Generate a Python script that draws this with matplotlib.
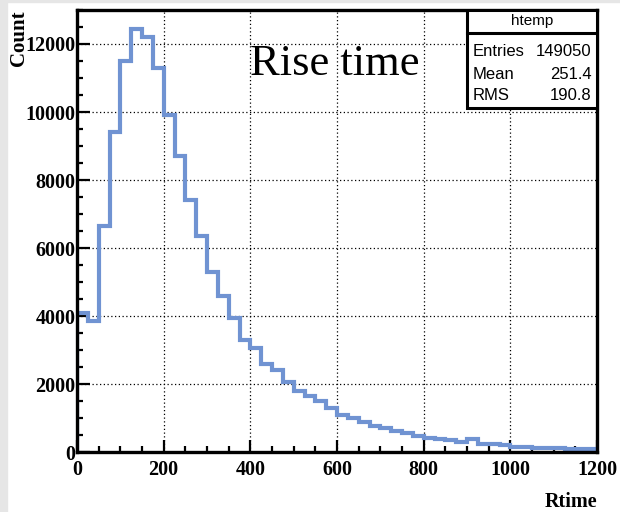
import numpy as np
import matplotlib
matplotlib.use("Agg")
import matplotlib.pyplot as plt
from matplotlib.patches import Rectangle
from matplotlib.ticker import MultipleLocator

# Histogram contents (bin width 25, range 0-1200)
bin_edges = np.arange(0, 1225, 25)
counts = [4100, 3850, 6650, 9400, 11500, 12450, 12200, 11300,
          9900, 8700, 7400, 6350, 5300, 4600, 3950, 3300,
          3050, 2600, 2400, 2050, 1800, 1650, 1500, 1300,
          1100, 1000, 890, 775, 700, 630, 550, 470,
          410, 380, 350, 300, 370, 250, 225, 200,
          160, 140, 130, 120, 110, 100, 95, 90]

stat_names = ["Entries", "Mean", "RMS"]
stat_values = ["149050", "251.4", "190.8"]

serif = ["Liberation Serif", "DejaVu Serif"]
sans = ["Liberation Sans Narrow", "Liberation Sans", "DejaVu Sans"]

fig = plt.figure(figsize=(6.2, 5.12), dpi=100)
W, H = 620, 512
# light gray page edge
fig.patches.append(Rectangle((0, 0), 7 / W, 1, transform=fig.transFigure,
                             color="#e6e6e6", zorder=0))
fig.patches.append(Rectangle((0, 1 - 2 / H), 1, 2 / H, transform=fig.transFigure,
                             color="#e6e6e6", zorder=0))

ax = fig.add_axes([77 / W, 1 - 452 / H, 520 / W, 442 / H])
ax.stairs(counts, bin_edges, baseline=0, color="#7093d2", lw=3.0, zorder=3)

ax.set_xlim(0, 1200)
ax.set_ylim(0, 13000)
ax.xaxis.set_major_locator(MultipleLocator(200))
ax.xaxis.set_minor_locator(MultipleLocator(50))
ax.yaxis.set_major_locator(MultipleLocator(2000))
ax.yaxis.set_minor_locator(MultipleLocator(500))
ax.tick_params(which="both", direction="in", width=1.6, color="black",
               top=False, right=False)
ax.tick_params(which="major", length=9)
ax.tick_params(which="minor", length=4.5)
ax.tick_params(axis="x", which="major", pad=6)
ax.tick_params(axis="y", which="major", pad=1)
for lab in ax.get_xticklabels() + ax.get_yticklabels():
    lab.set_family(serif)
    lab.set_fontweight("bold")
    lab.set_fontsize(14.5)
for s in ax.spines.values():
    s.set_linewidth(2.4)
    s.set_zorder(5)
ax.grid(True, which="major", linestyle=(0, (1, 2)), color="black", lw=0.9)

ax.set_xlabel("Rtime", family=serif, fontweight="bold", fontsize=14.5)
ax.xaxis.set_label_coords(1.0, -0.09)
ax.xaxis.label.set_horizontalalignment("right")
ax.set_ylabel("Count", family=serif, fontweight="bold", fontsize=15)
ax.yaxis.set_label_coords(-0.111, 1.0)
ax.yaxis.label.set_verticalalignment("center")
ax.yaxis.label.set_horizontalalignment("right")

ax.text(0.495, 0.877, "Rise time", transform=ax.transAxes, family=serif,
        fontsize=32, ha="center", va="center", zorder=6)

# stats box
bx0, by0, by1 = 0.75, 0.778, 0.948
ax.add_patch(Rectangle((bx0, by0), 1 - bx0, 1 - by0, transform=ax.transAxes,
                       facecolor="white", edgecolor="black", lw=2.2, zorder=7))
ax.plot([bx0, 1], [by1, by1], transform=ax.transAxes, color="black", lw=2.2, zorder=8)
ax.text((bx0 + 1) / 2, (by1 + 1) / 2, "htemp", transform=ax.transAxes, family=sans,
        fontsize=11, ha="center", va="center", zorder=9)
row_y = [0.905, 0.855, 0.807]
for name, val, y in zip(stat_names, stat_values, row_y):
    ax.text(bx0 + 0.01, y, name, transform=ax.transAxes, family=sans,
            fontsize=12, ha="left", va="center", zorder=9)
    ax.text(0.99, y, val, transform=ax.transAxes, family=sans,
            fontsize=12, ha="right", va="center", zorder=9)

fig.savefig("out.png", dpi=100)
